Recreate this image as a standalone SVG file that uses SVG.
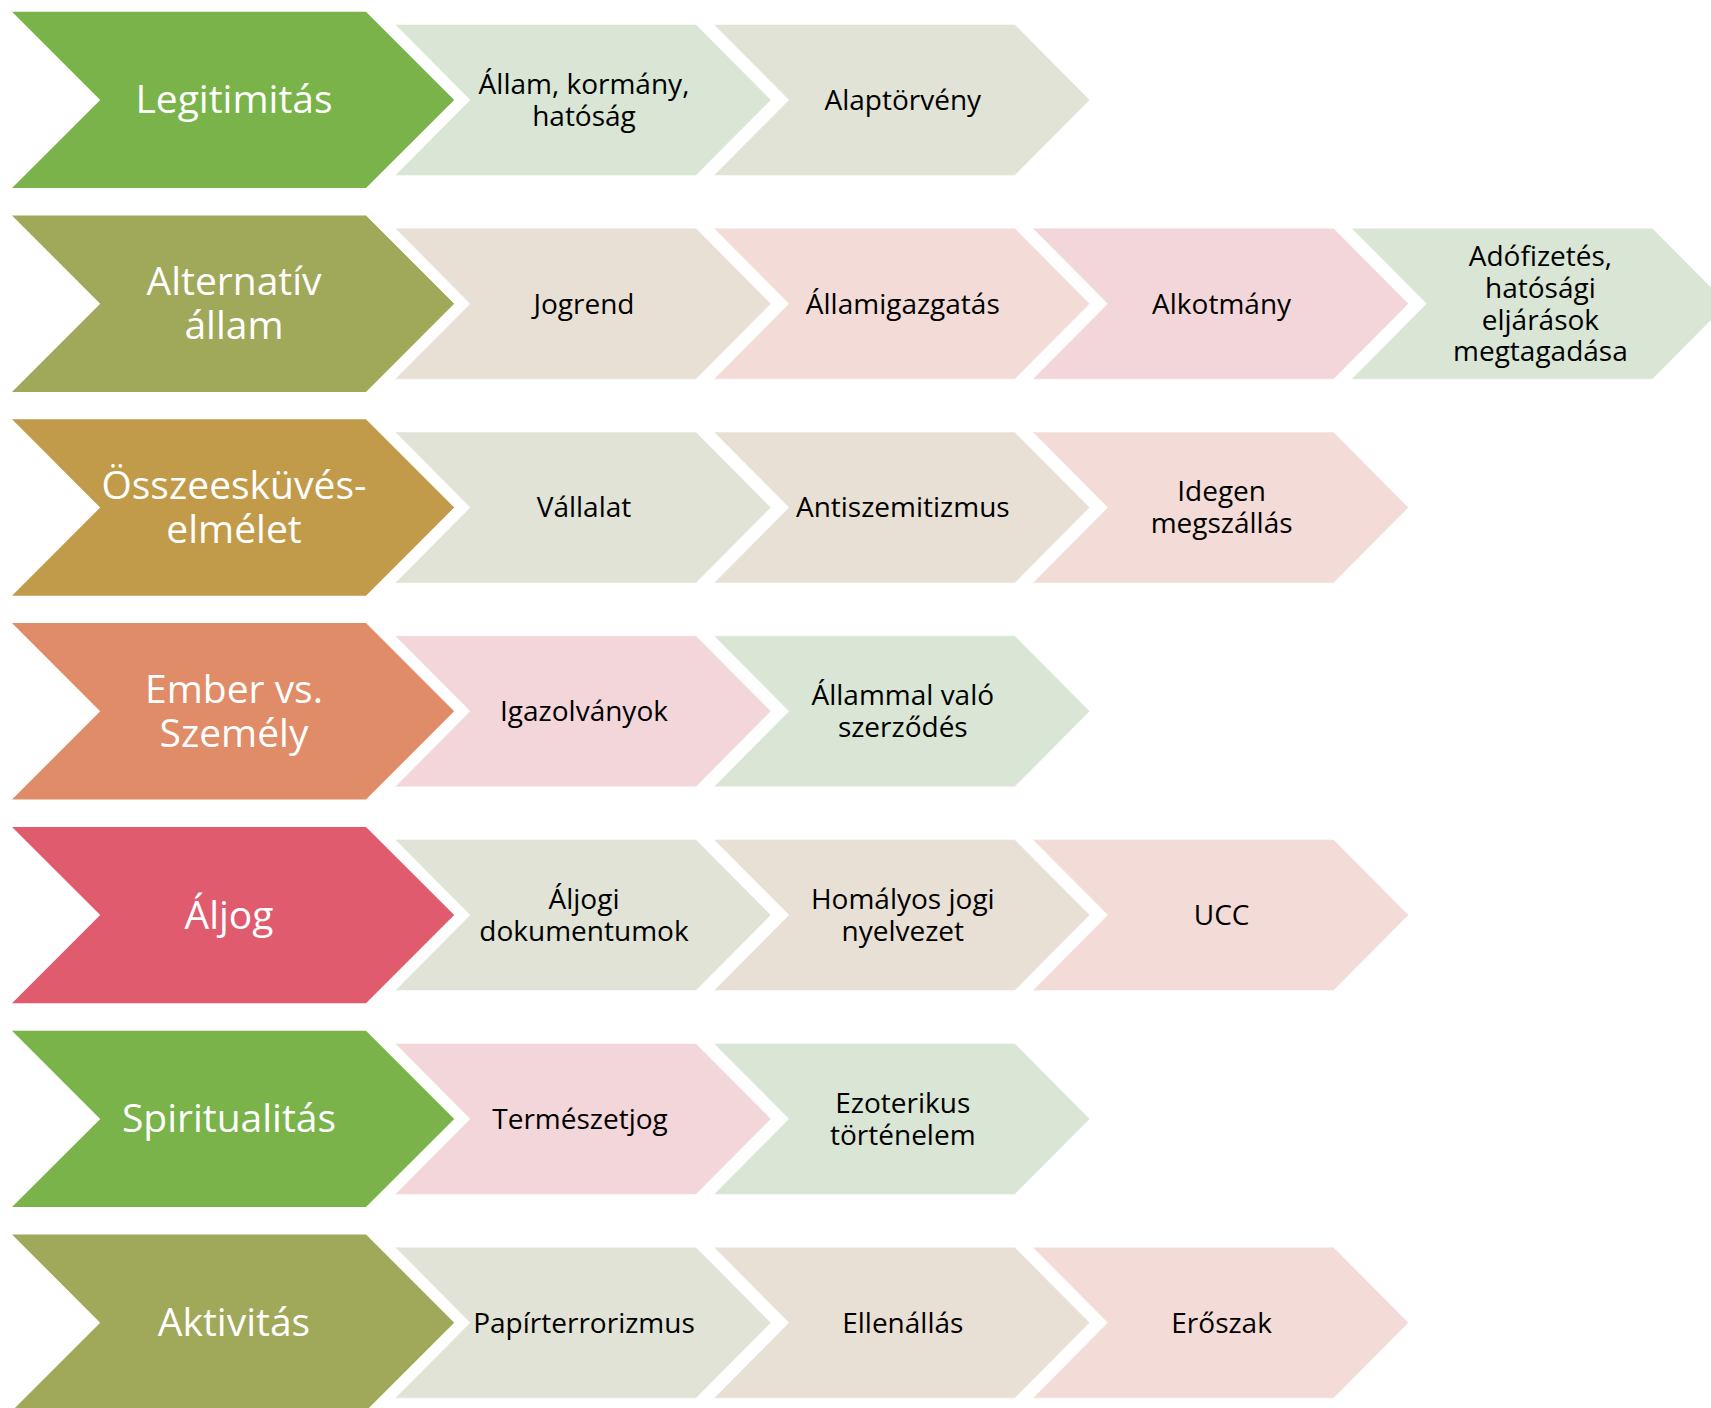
<svg xmlns="http://www.w3.org/2000/svg" width="1711" height="1408" viewBox="0 0 1711 1408">
<defs>
<style>
.big{font-family:"Open Sans","Noto Sans","Liberation Sans",sans-serif;font-size:39px;font-weight:400;fill:#ffffff;text-anchor:middle}
.sm{font-family:"Open Sans","Noto Sans","Liberation Sans",sans-serif;font-size:28px;font-weight:400;fill:#000000;text-anchor:middle}
.s{stroke:#ffffff;stroke-width:1;stroke-opacity:0.5}
.g1{fill:#79B34A}.g2{fill:#A0A85A}.g3{fill:#C19B4A}.g4{fill:#E08C69}.g5{fill:#E05B6E}
.lg{fill:#D9E5D5}.gr{fill:#E1E3D6}.be{fill:#E9E0D5}.pe{fill:#F3DCD7}.pk{fill:#F3D6D9}
</style>
<path id="bigc" d="M12,-88.2 H366 L454.2,0 L366,88.2 H12 L100.2,0 Z"/>
<path id="smc" d="M0,-75.5 H301 L376,0 L301,75.5 H0 L75,0 Z"/>
</defs>
<rect width="1711" height="1408" fill="#ffffff"/>
<g id="connectors"></g>

<!-- Row 1 -->
<g id="row1" transform="translate(0,99.9)">
<g id="n1-2"><use href="#smc" x="713.8" class="gr s"/><text class="sm" x="902.8" y="9.8">Alaptörvény</text></g>
<g id="n1-1"><use href="#smc" x="395" class="lg s"/><text class="sm" x="584" y="-6.2">Állam, kormány,</text><text class="sm" x="584" y="25.6">hatóság</text></g>
<g id="n1-0"><use href="#bigc" class="g1"/><text class="big" x="234" y="13.5">Legitimitás</text></g>
</g>

<!-- Row 2 -->
<g id="row2" transform="translate(0,303.7)">
<g id="n2-4"><use href="#smc" x="1351.4" class="lg s"/><text class="sm" x="1540.4" y="-38.2">Adófizetés,</text><text class="sm" x="1540.4" y="-6.2">hatósági</text><text class="sm" x="1540.4" y="25.8">eljárások</text><text class="sm" x="1540.4" y="57.8">megtagadása</text></g>
<g id="n2-3"><use href="#smc" x="1032.6" class="pk s"/><text class="sm" x="1221.6" y="9.8">Alkotmány</text></g>
<g id="n2-2"><use href="#smc" x="713.8" class="pe s"/><text class="sm" x="902.8" y="9.8">Államigazgatás</text></g>
<g id="n2-1"><use href="#smc" x="395" class="be s"/><text class="sm" x="584" y="9.8">Jogrend</text></g>
<g id="n2-0"><use href="#bigc" class="g2"/><text class="big" x="234" y="-8.3">Alternatív</text><text class="big" x="234" y="35.3">állam</text></g>
</g>

<!-- Row 3 -->
<g id="row3" transform="translate(0,507.5)">
<g id="n3-3"><use href="#smc" x="1032.6" class="pe s"/><text class="sm" x="1221.6" y="-6.2">Idegen</text><text class="sm" x="1221.6" y="25.6">megszállás</text></g>
<g id="n3-2"><use href="#smc" x="713.8" class="be s"/><text class="sm" x="902.8" y="9.8">Antiszemitizmus</text></g>
<g id="n3-1"><use href="#smc" x="395" class="gr s"/><text class="sm" x="584" y="9.8">Vállalat</text></g>
<g id="n3-0"><use href="#bigc" class="g3"/><text class="big" x="234" y="-8.3">Összeesküvés-</text><text class="big" x="234" y="35.3">elmélet</text></g>
</g>

<!-- Row 4 -->
<g id="row4" transform="translate(0,711.3)">
<g id="n4-2"><use href="#smc" x="713.8" class="lg s"/><text class="sm" x="902.8" y="-6.2">Állammal való</text><text class="sm" x="902.8" y="25.6">szerződés</text></g>
<g id="n4-1"><use href="#smc" x="395" class="pk s"/><text class="sm" x="584" y="9.8">Igazolványok</text></g>
<g id="n4-0"><use href="#bigc" class="g4"/><text class="big" x="234" y="-8.3">Ember vs.</text><text class="big" x="234" y="35.3">Személy</text></g>
</g>

<!-- Row 5 -->
<g id="row5" transform="translate(0,915.1)">
<g id="n5-3"><use href="#smc" x="1032.6" class="pe s"/><text class="sm" x="1221.6" y="9.8">UCC</text></g>
<g id="n5-2"><use href="#smc" x="713.8" class="be s"/><text class="sm" x="902.8" y="-6.2">Homályos jogi</text><text class="sm" x="902.8" y="25.6">nyelvezet</text></g>
<g id="n5-1"><use href="#smc" x="395" class="gr s"/><text class="sm" x="584" y="-6.2">Áljogi</text><text class="sm" x="584" y="25.6">dokumentumok</text></g>
<g id="n5-0"><use href="#bigc" class="g5"/><text class="big" x="229" y="13.5">Áljog</text></g>
</g>

<!-- Row 6 -->
<g id="row6" transform="translate(0,1118.9)">
<g id="n6-2"><use href="#smc" x="713.8" class="lg s"/><text class="sm" x="902.8" y="-6.2">Ezoterikus</text><text class="sm" x="902.8" y="25.6">történelem</text></g>
<g id="n6-1"><use href="#smc" x="395" class="pk s"/><text class="sm" x="580" y="9.8">Természetjog</text></g>
<g id="n6-0"><use href="#bigc" class="g1"/><text class="big" x="229" y="13.5">Spiritualitás</text></g>
</g>

<!-- Row 7 -->
<g id="row7" transform="translate(0,1322.7)">
<g id="n7-3"><use href="#smc" x="1032.6" class="pe s"/><text class="sm" x="1221.6" y="9.8">Erőszak</text></g>
<g id="n7-2"><use href="#smc" x="713.8" class="be s"/><text class="sm" x="902.8" y="9.8">Ellenállás</text></g>
<g id="n7-1"><use href="#smc" x="395" class="gr s"/><text class="sm" x="584" y="9.8">Papírterrorizmus</text></g>
<g id="n7-0"><use href="#bigc" class="g2"/><text class="big" x="234" y="13.5">Aktivitás</text></g>
</g>
</svg>
